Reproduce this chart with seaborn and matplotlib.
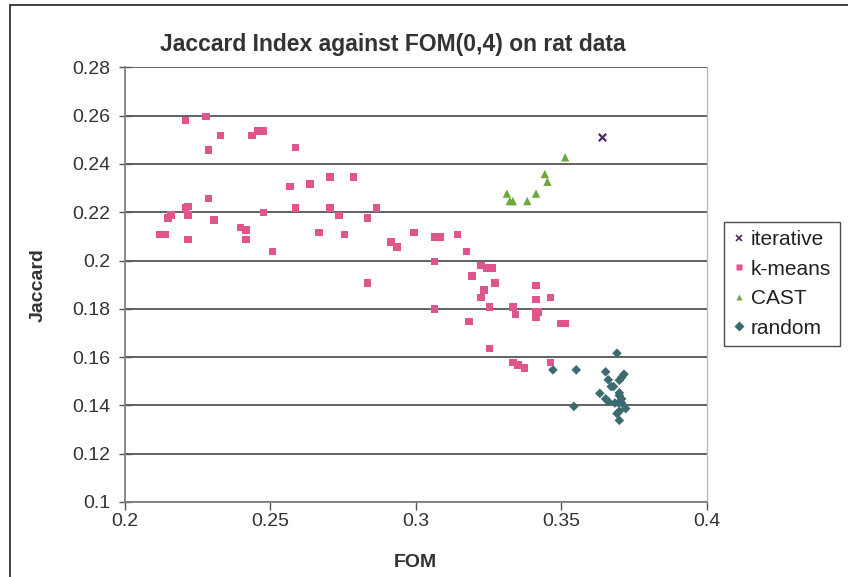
import matplotlib
matplotlib.use("Agg")
import matplotlib.pyplot as plt
import seaborn as sns
import pandas as pd
from matplotlib.lines import Line2D

# ---- data ----
iter_fom = [0.3640]
iter_jac = [0.2510]

km_fom = [0.2210, 0.2280, 0.2329, 0.2438, 0.2458, 0.2477, 0.2289, 0.2587, 0.2568, 0.2637,
          0.2706, 0.2786, 0.2289, 0.2210, 0.2219, 0.2219, 0.2160, 0.2150, 0.2308, 0.2477,
          0.2587, 0.2706, 0.2736, 0.2835, 0.2865, 0.2120, 0.2139, 0.2219, 0.2398, 0.2417,
          0.2417, 0.2508, 0.2667, 0.2756, 0.2914, 0.2935, 0.2994, 0.3064, 0.3083, 0.3064,
          0.2835, 0.3144, 0.3174, 0.3223, 0.3244, 0.3263, 0.3193, 0.3273, 0.3235, 0.3223,
          0.3253, 0.3333, 0.3342, 0.3413, 0.3413, 0.3462, 0.3413, 0.3422, 0.3413, 0.3064,
          0.3183, 0.3498, 0.3513, 0.3253, 0.3333, 0.3352, 0.3373, 0.3462]
km_jac = [0.2579, 0.2596, 0.2518, 0.2518, 0.2537, 0.2537, 0.2457, 0.2468, 0.2307, 0.2317,
          0.2347, 0.2347, 0.2257, 0.2217, 0.2224, 0.2188, 0.2188, 0.2177, 0.2168, 0.2198,
          0.2217, 0.2217, 0.2187, 0.2177, 0.2217, 0.2107, 0.2107, 0.2087, 0.2137, 0.2126,
          0.2087, 0.2038, 0.2116, 0.2107, 0.2077, 0.2057, 0.2116, 0.2097, 0.2097, 0.1996,
          0.1908, 0.2107, 0.2038, 0.1979, 0.1969, 0.1969, 0.1937, 0.1908, 0.1878, 0.1847,
          0.1808, 0.1808, 0.1777, 0.1897, 0.1838, 0.1847, 0.1787, 0.1787, 0.1767, 0.1798,
          0.1747, 0.1739, 0.1739, 0.1636, 0.1577, 0.1568, 0.1556, 0.1577]

cast_fom = [0.3313, 0.3323, 0.3333, 0.3383, 0.3413, 0.3443, 0.3452, 0.3513]
cast_jac = [0.2277, 0.2246, 0.2246, 0.2246, 0.2277, 0.2358, 0.2326, 0.2427]

rand_fom = [0.3691, 0.3652, 0.3715, 0.3707, 0.3699, 0.3661, 0.3671, 0.3679, 0.3699, 0.3699,
            0.3632, 0.3652, 0.3661, 0.3684, 0.3696, 0.3707, 0.3707, 0.3721, 0.3699, 0.3691,
            0.3699, 0.3471, 0.3551, 0.3543]
rand_jac = [0.1616, 0.1539, 0.1529, 0.1516, 0.1504, 0.1506, 0.1478, 0.1478, 0.1452, 0.1441,
            0.1450, 0.1427, 0.1416, 0.1410, 0.1410, 0.1410, 0.1427, 0.1387, 0.1376, 0.1366,
            0.1338, 0.1547, 0.1547, 0.1396]

series_names = ["iterative", "k-means", "CAST", "random"]
x_ticks = [0.2, 0.25, 0.3, 0.35, 0.4]
x_tick_labels = ["0.2", "0.25", "0.3", "0.35", "0.4"]
y_ticks = [0.1, 0.12, 0.14, 0.16, 0.18, 0.2, 0.22, 0.24, 0.26, 0.28]
y_tick_labels = ["0.1", "0.12", "0.14", "0.16", "0.18", "0.2", "0.22", "0.24", "0.26", "0.28"]

# ---- styling ----
sns.set_style("white")
plt.rcParams["font.family"] = ["Liberation Sans", "DejaVu Sans"]

fig = plt.figure(figsize=(8.48, 5.77), dpi=100)
ax = fig.add_axes([124.5 / 848, 1 - 502 / 577, (707 - 124.5) / 848, (502 - 67.3) / 577])

styles = {
    "iterative": dict(marker="x", color="#4B2A5E", s=28, linewidths=1.6),
    "k-means": dict(marker="s", color="#E0558B", s=30, edgecolor="none"),
    "CAST": dict(marker="^", color="#6BA83E", s=36, edgecolor="none"),
    "random": dict(marker="D", color="#3B6B70", s=24, edgecolor="none"),
}
data = {
    "iterative": (iter_fom, iter_jac),
    "k-means": (km_fom, km_jac),
    "CAST": (cast_fom, cast_jac),
    "random": (rand_fom, rand_jac),
}
for name in ["random", "CAST", "k-means", "iterative"]:
    fx, jy = data[name]
    df = pd.DataFrame({"FOM": fx, "Jaccard": jy})
    sns.scatterplot(data=df, x="FOM", y="Jaccard", ax=ax, legend=False, zorder=3, **styles[name])

ax.set_xlim(0.2, 0.4)
ax.set_ylim(0.1, 0.28)
ax.set_xticks(x_ticks)
ax.set_xticklabels(x_tick_labels)
ax.set_yticks(y_ticks)
ax.set_yticklabels(y_tick_labels)

ax.yaxis.grid(True, color="#555555", linewidth=1.3)
ax.xaxis.grid(False)
ax.set_axisbelow(True)

ax.spines["top"].set_visible(False)
ax.spines["left"].set_color("#808080")
ax.spines["bottom"].set_color("#808080")
ax.spines["right"].set_color("#bbbbbb")
ax.spines["left"].set_linewidth(1.3)
ax.spines["bottom"].set_linewidth(1.3)
ax.spines["right"].set_linewidth(1.0)

ax.tick_params(axis="y", direction="inout", length=9, width=1, color="#555555",
               labelsize=14, labelcolor="#333333", pad=6, left=True)
ax.tick_params(axis="x", direction="out", length=6, width=1, color="#555555",
               labelsize=14, labelcolor="#333333", pad=2, bottom=True)

ax.set_xlabel("FOM", fontsize=14, fontweight="bold", color="#333333", labelpad=17)
ax.set_ylabel("Jaccard", fontsize=14, fontweight="bold", color="#333333", labelpad=18)

fig.text(393 / 848, 1 - 44 / 577, "Jaccard Index against FOM(0,4) on rat data",
         ha="center", va="center", fontsize=16.5, fontweight="bold", color="#333333")

handles = []
for name in series_names:
    st = styles[name]
    if st["marker"] == "x":
        h = Line2D([], [], linestyle="none", marker="x", color=st["color"], markersize=5,
                   markeredgewidth=1.2, label=name)
    else:
        h = Line2D([], [], linestyle="none", marker=st["marker"], color=st["color"],
                   markeredgecolor="none", markersize=5, label=name)
    handles.append(h)

leg = fig.legend(handles=handles, loc="upper left",
                 bbox_to_anchor=(724 / 848, 1 - 222 / 577),
                 frameon=True, fontsize=15, handlelength=0.6, handletextpad=0.3,
                 borderpad=0.4, labelspacing=0.5, borderaxespad=0, fancybox=False)
leg.get_frame().set_edgecolor("#222222")
leg.get_frame().set_linewidth(1.0)
for t in leg.get_texts():
    t.set_color("#222222")

fig.add_artist(Line2D([10 / 848, 10 / 848], [0, 1 - 5 / 577], transform=fig.transFigure,
                      color="#222222", linewidth=1.2))
fig.add_artist(Line2D([10 / 848, 1], [1 - 5 / 577, 1 - 5 / 577], transform=fig.transFigure,
                      color="#222222", linewidth=1.2))

fig.savefig("out.png", dpi=100)
